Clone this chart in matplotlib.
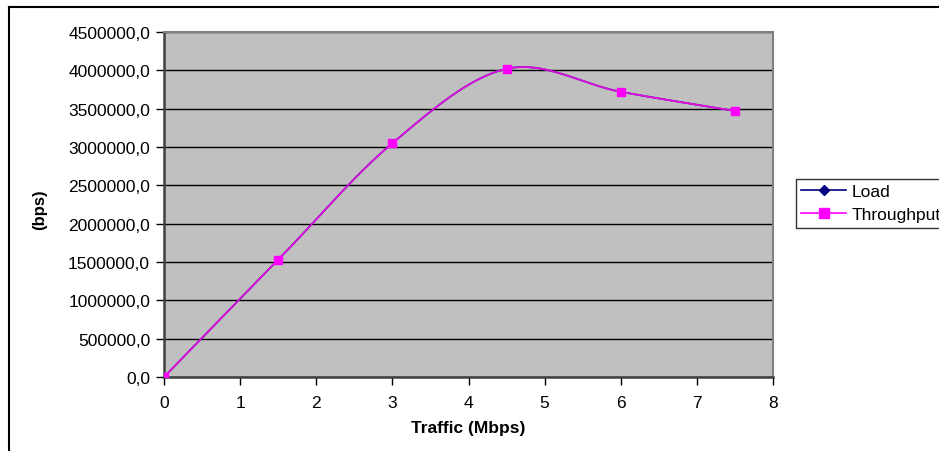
import numpy as np
import matplotlib
matplotlib.use('Agg')
import matplotlib.pyplot as plt
from matplotlib.lines import Line2D
from matplotlib.ticker import FuncFormatter

plt.rcParams['font.family'] = ['Liberation Sans', 'DejaVu Sans']

# ==== Data ====
traffic = [0, 1.5, 3, 4.5, 6, 7.5]
load = [0, 1530000, 3050000, 4020000, 3720000, 3470000]
throughput = [0, 1530000, 3050000, 4020000, 3720000, 3470000]
x_ticks = [0, 1, 2, 3, 4, 5, 6, 7, 8]
y_ticks = [0, 500000, 1000000, 1500000, 2000000, 2500000, 3000000, 3500000, 4000000, 4500000]


def smooth(xs, ys, n=40):
    """Excel-style smoothed line (Bezier through the points)."""
    p = np.column_stack([xs, ys]).astype(float)
    ext = np.vstack([p[0], p, p[-1]])
    out = []
    t = np.linspace(0, 1, n)[:, None]
    for i in range(len(p) - 1):
        p0, p3 = ext[i + 1], ext[i + 2]
        c1 = p0 + (ext[i + 2] - ext[i]) / 6
        c2 = p3 - (ext[i + 3] - ext[i + 1]) / 6
        seg = ((1 - t) ** 3) * p0 + 3 * ((1 - t) ** 2) * t * c1 + 3 * (1 - t) * t ** 2 * c2 + t ** 3 * p3
        out.append(seg)
    c = np.vstack(out)
    return c[:, 0], c[:, 1]


fig = plt.figure(figsize=(9.39, 4.52), dpi=100)
ax = fig.add_axes([164 / 939, 74 / 452, 609 / 939, 345 / 452])
ax.set_facecolor('#C0C0C0')

lx, ly = smooth(traffic, load)
ax.plot(lx, ly, color='#000080', lw=1.2, zorder=3)
ax.plot(traffic, load, ls='none', marker='D', color='#000080', ms=4.5, zorder=4)

tx, ty = smooth(traffic, throughput)
ax.plot(tx, ty, color='#E010E0', lw=1.3, zorder=5)
ax.plot(traffic, throughput, ls='none', marker='s', color='#FF00FF', ms=6, zorder=6)

ax.set_xlim(0, 8)
ax.set_ylim(0, 4500000)
ax.set_xticks(x_ticks)
ax.set_yticks(y_ticks)
ax.yaxis.set_major_formatter(FuncFormatter(lambda v, p: f'{v:.1f}'.replace('.', ',')))
ax.tick_params(direction='out', length=6, width=1, color='black', labelsize=12.5, pad=4)
ax.tick_params(axis='x', pad=7)
ax.grid(axis='y', color='black', lw=1)
ax.set_axisbelow(True)

for s in ['left', 'bottom']:
    ax.spines[s].set_color('#404040')
    ax.spines[s].set_linewidth(1.8)
for s in ['top', 'right']:
    ax.spines[s].set_color('#808080')
    ax.spines[s].set_linewidth(1.5)

fig.text(468 / 939, 1 - 429 / 452, 'Traffic (Mbps)', ha='center', va='center',
         fontsize=12.5, fontweight='bold')
fig.text(40 / 939, 1 - 210 / 452, '(bps)', ha='center', va='center', rotation=90,
         fontsize=12, fontweight='bold')

handles = [Line2D([], [], color='#000080', marker='D', ms=5, lw=1.2),
           Line2D([], [], color='#FF00FF', marker='s', ms=6.5, lw=1.2)]
leg = fig.legend(handles, ['Load', 'Throughput'], loc='upper left',
                 bbox_to_anchor=(796 / 939, 1 - 180 / 452), fontsize=12.5,
                 frameon=True, fancybox=False, edgecolor='black', borderpad=0.3,
                 handlelength=2.6, handletextpad=0.3, labelspacing=0.45, borderaxespad=0)
leg.get_frame().set_linewidth(1)

# outer chart border (only top and left visible)
fig.add_artist(Line2D([9 / 939, 1], [1 - 8 / 452, 1 - 8 / 452], color='black', lw=1.5))
fig.add_artist(Line2D([9 / 939, 9 / 939], [0, 1 - 8 / 452], color='black', lw=1.5))

fig.savefig('out.png', dpi=100, facecolor='white')
